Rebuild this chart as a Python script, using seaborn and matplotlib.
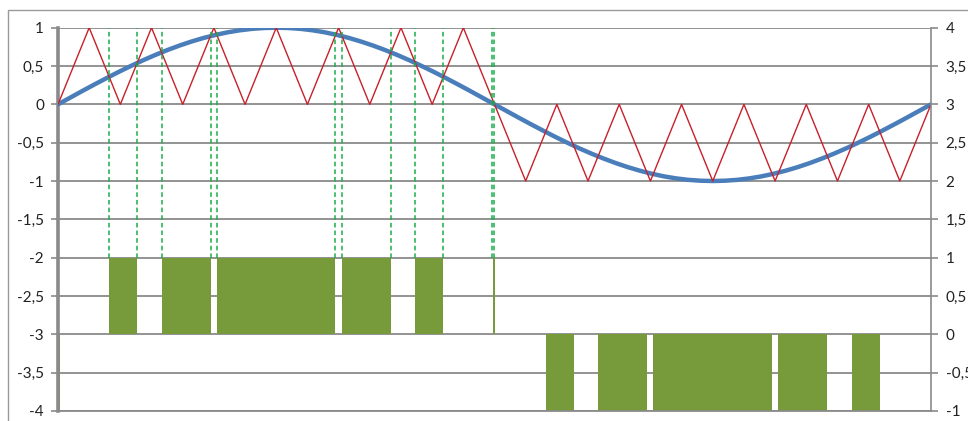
import numpy as np
import pandas as pd
import matplotlib
matplotlib.use("Agg")
import matplotlib.pyplot as plt
import seaborn as sns
from matplotlib.patches import Rectangle

# ---------------- data ----------------
# modulating sine, sampled every 5 degrees
sine_deg = list(range(0, 361, 5))
sine_val = [0.000, 0.087, 0.174, 0.259, 0.342, 0.423, 0.500, 0.574, 0.643, 0.707,
            0.766, 0.819, 0.866, 0.906, 0.940, 0.966, 0.985, 0.996, 1.000,
            0.996, 0.985, 0.966, 0.940, 0.906, 0.866, 0.819, 0.766, 0.707, 0.643,
            0.574, 0.500, 0.423, 0.342, 0.259, 0.174, 0.087, 0.000,
            -0.087, -0.174, -0.259, -0.342, -0.423, -0.500, -0.574, -0.643, -0.707,
            -0.766, -0.819, -0.866, -0.906, -0.940, -0.966, -0.985, -0.996, -1.000,
            -0.996, -0.985, -0.966, -0.940, -0.906, -0.866, -0.819, -0.766, -0.707,
            -0.643, -0.574, -0.500, -0.423, -0.342, -0.259, -0.174, -0.087, 0.000]

# triangular carrier vertices
carrier_deg = [0, 12.86, 25.71, 38.57, 51.43, 64.29, 77.14, 90, 102.86, 115.71,
               128.57, 141.43, 154.29, 167.14, 180, 192.86, 205.71, 218.57, 231.43,
               244.29, 257.14, 270, 282.86, 295.71, 308.57, 321.43, 334.29, 347.14, 360]
carrier_val = [0, 1, 0, 1, 0, 1, 0, 1, 0, 1, 0, 1, 0, 1, 0,
               -1, 0, -1, 0, -1, 0, -1, 0, -1, 0, -1, 0, -1, 0]

# crossing markers (green dashed lines)
cross_deg = [21.1, 32.7, 42.8, 62.9, 65.5, 114.4, 117.1, 137.2, 147.3, 158.9, 179.0, 180.0]

# PWM pulses (degrees)
pos_start = [21.1, 42.8, 65.5, 117.1, 147.3, 179.2]
pos_end = [32.7, 62.9, 114.4, 137.2, 158.9, 180.0]
neg_start = [0.0, 201.1, 222.8, 245.5, 297.1, 327.3]
neg_end = [0.8, 212.7, 242.9, 294.4, 317.2, 338.9]

left_ticks = [1, 0.5, 0, -0.5, -1, -1.5, -2, -2.5, -3, -3.5, -4]
right_ticks = [4, 3.5, 3, 2.5, 2, 1.5, 1, 0.5, 0, -0.5, -1]

# ---------------- styling ----------------
sns.set_style("white")
plt.rcParams['font.family'] = ['Lato', 'DejaVu Sans']

GRAY = '#8a8a8a'
OLIVE = '#779a3a'
BLUE = '#4a7ebb'
RED = '#c8202a'
GREEN = '#1aae4a'

fig = plt.figure(figsize=(9.68, 4.21), dpi=100)
ax = fig.add_axes([58 / 968, 1 - 411 / 421, (931 - 58) / 968, (411 - 27.7) / 421])

# pulses
pos_w = [e - s for s, e in zip(pos_start, pos_end)]
neg_w = [e - s for s, e in zip(neg_start, neg_end)]
ax.bar(pos_start, [1] * len(pos_start), width=pos_w, bottom=-3, align='edge',
       color=OLIVE, linewidth=0, zorder=2)
ax.bar(neg_start, [1] * len(neg_start), width=neg_w, bottom=-4, align='edge',
       color=OLIVE, linewidth=0, zorder=2)

sine_df = pd.DataFrame({'deg': sine_deg, 'val': sine_val})
car_df = pd.DataFrame({'deg': carrier_deg, 'val': carrier_val})
sns.lineplot(data=sine_df, x='deg', y='val', ax=ax, color=BLUE, lw=3.2, sort=False, zorder=3)
sns.lineplot(data=car_df, x='deg', y='val', ax=ax, color=RED, lw=1.0, sort=False, zorder=3.5)

ax.vlines(cross_deg, -2, 1, colors=GREEN, linestyles=(0, (3, 2)), lw=1.1, zorder=4)

ax.set_xlim(0, 360)
ax.set_ylim(-4, 1)
ax.set_xticks([])
ax.set_xlabel('')
ax.set_ylabel('')
ax.set_yticks(left_ticks)
ax.set_yticklabels([f"{v:g}".replace('.', ',') for v in left_ticks])
ax.yaxis.grid(True, color=GRAY, lw=1.3)
ax.set_axisbelow(True)
ax.tick_params(axis='y', direction='out', length=5, width=1.2, color=GRAY,
               pad=5, labelsize=11, labelcolor='#222222')
ax.tick_params(axis='y', left=True)
for side in ['top', 'right']:
    ax.spines[side].set_visible(False)
ax.spines['left'].set_color(GRAY)
ax.spines['left'].set_linewidth(2.6)
ax.spines['bottom'].set_color(GRAY)
ax.spines['bottom'].set_linewidth(1.3)

ax2 = ax.twinx()
ax2.set_ylim(-1, 4)
ax2.set_yticks(right_ticks)
ax2.set_yticklabels([f"{v:g}".replace('.', ',') for v in right_ticks])
ax2.tick_params(axis='y', direction='out', length=5, width=1.2, color=GRAY,
                pad=5.5, labelsize=11, labelcolor='#222222')
ax2.grid(False)
for side in ['top', 'left', 'bottom']:
    ax2.spines[side].set_visible(False)
ax2.spines['right'].set_color(GRAY)
ax2.spines['right'].set_linewidth(1.2)

# outer chart border
fig.patches.append(Rectangle((8 / 968, -0.05), 1.2, 1 - 10 / 421 + 0.05,
                             transform=fig.transFigure, fill=False,
                             edgecolor='#9a9a9a', lw=1.0))

fig.savefig('out.png', dpi=100)
